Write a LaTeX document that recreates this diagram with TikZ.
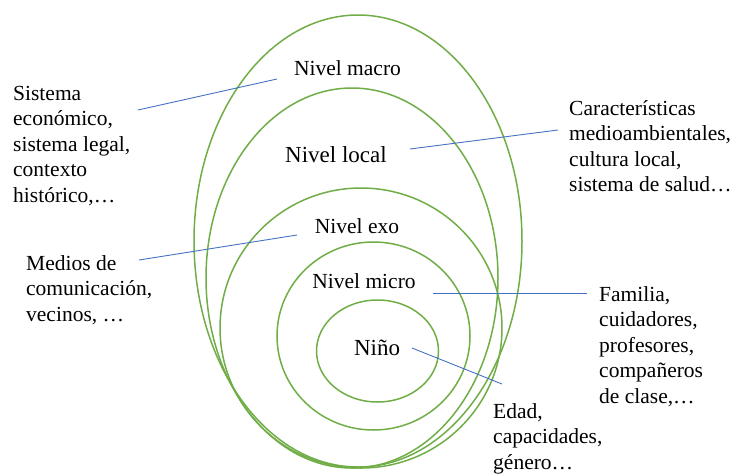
\documentclass[tikz,border=0pt]{standalone}
\usepackage{fontspec}
\setmainfont{Liberation Serif}
\newfontfamily\diagfont{Liberation Serif}
\usetikzlibrary{positioning}
\definecolor{ringgreen}{RGB}{112,173,71}
\definecolor{linkblue}{RGB}{68,114,196}

\begin{document}
\begin{tikzpicture}[x=1pt,y=-1pt,
  ring/.style={draw=ringgreen, line width=1.5pt},
  level/.style={inner sep=0pt, font=\diagfont\fontsize{21.5}{25.5}\selectfont},
  biglevel/.style={inner sep=0pt, font=\diagfont\fontsize{23}{27}\selectfont},
  note/.style={inner sep=0pt, anchor=north west, align=left, font=\diagfont\fontsize{21.5}{25.5}\selectfont},
  link/.style={draw=linkblue, line width=0.9pt}]

\useasboundingbox (0,0) rectangle (731,475);

% anillos
\draw[ring] (358,241) ellipse [x radius=164pt, y radius=226pt];
\draw[ring] (352,278) ellipse [x radius=146pt, y radius=190pt];
\draw[ring] (361,328) ellipse [x radius=141pt, y radius=140pt];
\draw[ring] (373.5,336) ellipse [x radius=96.5pt, y radius=94pt];
\draw[ring] (377.5,351) ellipse [x radius=61pt, y radius=51pt];

% niveles
\node (macro) [level] at (347.5,68) {Nivel macro};
\node (local) [biglevel] at (336,155) {Nivel local};
\node (exo) [level] at (357,226) {Nivel exo};
\node (micro) [level] at (364,281) {Nivel micro};
\node (nino) [biglevel] at (377,348) {Niño};

% notas
\node (sistema) [note] at (13,86) {Sistema\\económico,\\sistema legal,\\contexto\\histórico,\dots};
\node (caract) [note] at (569,100) {Características\\medioambientales,\\cultura local,\\sistema de salud\dots};
\node (medios) [note] at (26,255) {Medios de\\comunicación,\\vecinos, \dots};
\node (familia) [note] at (599,286) {Familia,\\cuidadores,\\profesores,\\compañeros\\de clase,\dots};
\node (edad) [note] at (493,403) {Edad,\\capacidades,\\género\dots};

% lineas
\coordinate (macro-a) at (138,110);
\coordinate (macro-b) at (277,79);
\coordinate (local-a) at (410,149);
\coordinate (local-b) at (558,130);
\coordinate (exo-a) at (139,260);
\coordinate (exo-b) at (297,235);
\coordinate (micro-a) at (433,293);
\coordinate (micro-b) at (587,293);
\coordinate (nino-a) at (412,348);
\coordinate (nino-b) at (502,384);

\draw[link] (macro-a) -- (macro-b);
\draw[link] (local-a) -- (local-b);
\draw[link] (exo-a) -- (exo-b);
\draw[link] (micro-a) -- (micro-b);
\draw[link] (nino-a) -- (nino-b);
\end{tikzpicture}
\end{document}
